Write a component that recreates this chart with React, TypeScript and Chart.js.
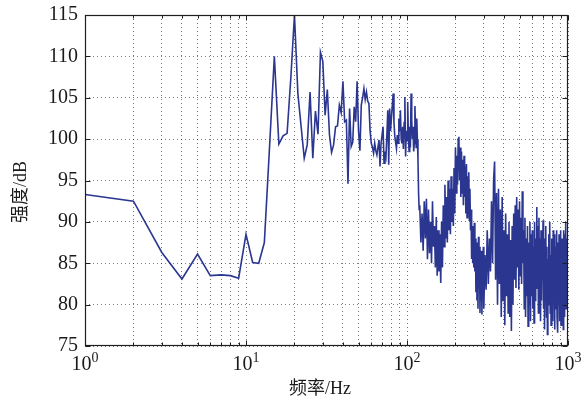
import React, { useEffect, useRef } from 'react';
import { Chart, registerables } from 'chart.js';

Chart.register(...registerables);

// Frequency sampling segments (Hz) and the intensity values (dB)
const lowStart = 1;
const lowStep = 1;
const lowValues = [
  93.3, 92.5, 86.3, 83.1, 86.1, 83.5, 83.6, 83.5, 83.2, 88.5,
  85.1, 85.0, 87.5, 99.0, 110.0, 99.4, 100.4, 100.7, 107.5, 115.0,
  105.5, 101.5, 97.7, 99.3, 105.7, 97.7, 103.4, 100.6, 110.5, 109.4,
  102.9, 106.0, 100.5, 98.4, 99.3, 101.5, 101.6, 104.1, 103.2, 107.0,
  102.1, 102.3, 94.6, 103.7, 99.1, 99.6, 103.9, 102.1, 107.0, 101.0,
  98.6, 104.1, 105.0, 106.1, 104.8, 105.7, 104.6, 104.3, 101.0, 99.5,
  99.0, 98.3, 99.5, 98.6, 98.1, 99.0, 99.9, 96.7, 99.5, 100.5,
  101.5, 97.1, 98.5, 97.9, 100.5, 103.5, 96.9, 103.7, 101.0, 102.5,
  104.0, 105.5, 102.0, 100.3, 99.6, 98.9, 100.5, 99.5, 102.5, 101.0,
  103.5, 100.0, 99.5, 101.5, 98.8, 102.0, 105.1, 97.9, 101.0, 99.8,
  104.5, 100.3, 98.5, 101.5, 99.0, 105.5, 102.3, 100.0, 101.5, 98.5,
  99.5, 104.0, 101.1, 99.0, 102.5, 100.0, 97.5, 93.5, 91.5,
];

const midStart = 120;
const midStep = 2;
const midValues = [
  92.0, 87.5, 91.0, 86.5, 92.5, 88.0, 92.8, 85.5, 91.5, 86.2,
  90.0, 85.0, 92.5, 87.0, 89.5, 84.5, 90.6, 83.5, 89.0, 84.0,
  88.5, 82.6, 90.0, 84.5, 92.0, 87.0, 94.5, 88.0, 93.0, 87.5,
  95.0, 89.0, 94.0, 88.5, 95.5, 90.0, 94.0, 89.5, 96.5, 91.0,
  99.0, 93.5, 98.0, 94.5, 100.0, 100.3, 95.0, 99.0, 93.0, 98.5,
  93.5, 97.5, 92.0, 98.0, 93.0, 96.7, 91.0, 97.0, 90.5, 95.5,
  91.0, 96.0, 90.2, 94.0, 89.0, 91.5, 85.5, 89.5, 85.0, 88.5,
  84.5, 89.9, 84.0, 88.0, 81.5, 87.5, 80.5, 86.0, 79.5, 88.2,
  82.0, 87.0, 79.0, 85.5, 80.5, 86.5, 78.8, 84.0, 81.0, 87.0,
  79.5,
];

const highStart = 305;
const highStep = 5;
const highValues = [
  86.0, 81.8, 89.0, 82.5, 88.0, 84.0, 92.5, 85.0, 95.0, 97.3,
  83.0, 93.5, 80.0, 94.0, 82.5, 91.5, 78.5, 93.0, 80.5, 89.0,
  77.5, 91.0, 81.0, 88.5, 79.0, 90.0, 78.5, 87.8, 76.8, 89.5,
  80.0, 91.0, 83.0, 92.0, 82.0, 93.0, 84.5, 91.5, 81.8, 92.5,
  83.5, 90.5, 82.5, 93.7, 85.0, 89.0, 79.5, 90.5, 78.5, 88.0,
  81.0, 89.5, 77.4, 87.5, 80.0, 90.0, 78.0, 88.5, 81.0, 89.0,
  79.5, 87.0, 77.8, 90.0, 80.5, 88.0, 82.0, 91.8, 83.0, 89.5,
  79.0, 90.5, 81.5, 88.0, 78.0, 89.0, 80.5, 87.5, 83.0, 90.2,
  79.5, 88.0, 77.0, 86.5, 81.0, 89.5, 78.5, 87.0, 76.4, 85.5,
  80.0, 88.5, 82.5, 90.0, 79.0, 86.0, 77.5, 88.0, 80.5, 87.0,
  78.0, 89.0, 81.5, 86.5, 77.0, 88.5, 79.5, 87.0, 82.0, 89.0,
  78.5, 86.0, 76.6, 87.5, 80.0, 88.5, 78.0, 86.0, 81.0, 89.0,
  77.5, 85.5, 79.0, 88.0, 81.5, 86.5, 77.0, 89.0, 80.0, 87.0,
  78.5, 88.5, 82.0, 90.0, 79.5, 87.5, 81.0, 88.0, 84.0, 89.0,
];

const xMin = 1;
const xMax = 1000;
const yMin = 75;
const yMax = 115;
const yStep = 5;
const xDecades = [1, 10, 100, 1000];
const xExponents = ['0', '1', '2', '3'];
const xMinorMultipliers = [1, 2, 3, 4, 5, 6, 7, 8, 9];
const xTitle = '频率/Hz';
const yTitle = '强度/dB';

const LINE_COLOR = '#2b3691';
const SERIF = '"Liberation Serif", "Noto Sans CJK SC", serif';

function segment(start: number, step: number, values: number[]) {
  return values.map((y, i) => ({ x: start + i * step, y }));
}

const framePlugin = {
  id: 'framePlugin',
  afterDraw(chart: any) {
    const { ctx, chartArea, scales } = chart;
    const { left, right, top, bottom } = chartArea;
    const xs = scales.x;
    const ys = scales.y;
    ctx.save();
    ctx.strokeStyle = '#1e1e1e';
    ctx.lineWidth = 1.2;
    const L = Math.round(left) + 0.5;
    const R = Math.round(right) - 0.5;
    const T = Math.round(top) + 0.5;
    const B = Math.round(bottom) - 0.5;
    ctx.strokeRect(L, T, R - L, B - T);

    ctx.lineWidth = 1;
    ctx.beginPath();
    xs.ticks.forEach((t: any) => {
      const v = t.value;
      const major = xDecades.includes(v);
      const len = major ? 5 : 3;
      const px = Math.round(xs.getPixelForValue(v)) + 0.5;
      ctx.moveTo(px, B);
      ctx.lineTo(px, B - len);
      ctx.moveTo(px, T);
      ctx.lineTo(px, T + len);
    });
    ys.ticks.forEach((t: any) => {
      const py = Math.round(ys.getPixelForValue(t.value)) + 0.5;
      ctx.moveTo(L, py);
      ctx.lineTo(L + 5, py);
      ctx.moveTo(R, py);
      ctx.lineTo(R - 5, py);
    });
    ctx.stroke();

    // x tick labels as 10 with superscript exponent
    ctx.fillStyle = '#1a1a1a';
    ctx.textBaseline = 'alphabetic';
    ctx.textAlign = 'left';
    xDecades.forEach((v, i) => {
      const px = xs.getPixelForValue(v);
      ctx.font = `20px ${SERIF}`;
      const wBase = ctx.measureText('10').width;
      ctx.font = `14px ${SERIF}`;
      const wExp = ctx.measureText(xExponents[i]).width;
      const start = px - (wBase + wExp) / 2;
      ctx.font = `20px ${SERIF}`;
      ctx.fillText('10', start, 370);
      ctx.font = `14px ${SERIF}`;
      ctx.fillText(xExponents[i], start + wBase, 362);
    });

    // axis titles
    ctx.font = `18px ${SERIF}`;
    ctx.textAlign = 'center';
    ctx.textBaseline = 'middle';
    ctx.fillText(xTitle, 320, 389);
    ctx.save();
    ctx.translate(21, 192);
    ctx.rotate(-Math.PI / 2);
    ctx.fillText(yTitle, 0, 0);
    ctx.restore();
    ctx.restore();
  },
};

export default function App() {
  const canvasRef = useRef<HTMLCanvasElement | null>(null);

  useEffect(() => {
    const canvas = canvasRef.current;
    if (!canvas) return;
    const data = [
      ...segment(lowStart, lowStep, lowValues),
      ...segment(midStart, midStep, midValues),
      ...segment(highStart, highStep, highValues),
    ];
    const chart = new Chart(canvas, {
      type: 'line',
      data: {
        datasets: [
          {
            data,
            borderColor: LINE_COLOR,
            borderWidth: 1.6,
            pointRadius: 0,
            fill: false,
            tension: 0,
          },
        ],
      },
      options: {
        animation: false,
        responsive: false,
        devicePixelRatio: 1,
        layout: { padding: { top: 15, right: 16, left: 0, bottom: 0 } },
        plugins: {
          legend: { display: false },
          tooltip: { enabled: false },
        },
        scales: {
          x: {
            type: 'logarithmic',
            min: xMin,
            max: xMax,
            afterBuildTicks: (scale: any) => {
              const ticks: { value: number }[] = [];
              xDecades.forEach((d) => {
                xMinorMultipliers.forEach((m) => {
                  const v = d * m;
                  if (v <= xMax) ticks.push({ value: v });
                });
              });
              scale.ticks = ticks;
            },
            afterFit: (scale: any) => {
              scale.height = 56;
              scale.paddingLeft = 0;
              scale.paddingRight = 0;
            },
            ticks: { display: false },
            grid: { color: 'rgba(0,0,0,0.55)', lineWidth: 1, drawTicks: false },
            border: { display: false, dash: [1, 3] },
          },
          y: {
            min: yMin,
            max: yMax,
            afterFit: (scale: any) => {
              scale.width = 85;
              scale.paddingTop = 0;
              scale.paddingBottom = 0;
            },
            ticks: {
              stepSize: yStep,
              padding: 7,
              color: '#1a1a1a',
              font: { family: SERIF, size: 20 },
            },
            grid: { color: 'rgba(0,0,0,0.5)', lineWidth: 1, drawTicks: false },
            border: { display: false, dash: [1, 3] },
          },
        },
      },
      plugins: [framePlugin],
    });
    return () => chart.destroy();
  }, []);

  return (
    <div style={{ position: 'fixed', left: 0, top: 0, width: 584, height: 402, background: '#fff' }}>
      <canvas ref={canvasRef} width={584} height={402} style={{ width: 584, height: 402 }} />
    </div>
  );
}
